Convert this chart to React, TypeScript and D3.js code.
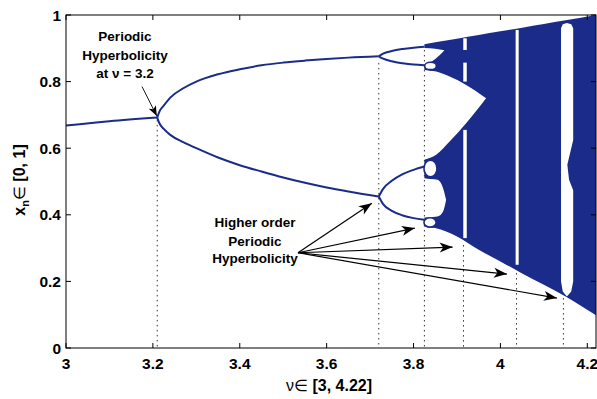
import React from 'react';
import * as d3 from 'd3';

// ---------- data ----------
const xTicks = [3, 3.2, 3.4, 3.6, 3.8, 4, 4.2];
const yTicks = [0, 0.2, 0.4, 0.6, 0.8, 1];

// fixed point branch
const fixedNu = [3, 3.1, 3.21];
const fixedX = [0.668, 0.681, 0.692];

// period-2 branches
const p2Nu = [3.21, 3.215, 3.225, 3.24, 3.27, 3.3, 3.35, 3.4, 3.45, 3.5, 3.55, 3.6, 3.65, 3.72];
const p2Up = [0.692, 0.71, 0.728, 0.752, 0.78, 0.8, 0.822, 0.837, 0.849, 0.857, 0.863, 0.868, 0.872, 0.876];
const p2Lo = [0.692, 0.675, 0.658, 0.64, 0.618, 0.6, 0.572, 0.549, 0.53, 0.512, 0.496, 0.482, 0.47, 0.455];

// period-4 branches
const p4Nu = [3.72, 3.73, 3.75, 3.775, 3.8, 3.825];
const p4aUp = [0.876, 0.884, 0.892, 0.898, 0.902, 0.905];
const p4aLo = [0.876, 0.869, 0.861, 0.855, 0.851, 0.849];
const p4bUp = [0.455, 0.478, 0.502, 0.522, 0.535, 0.545];
const p4bLo = [0.455, 0.432, 0.412, 0.398, 0.39, 0.385];

// period-8 small loops (centre nu, centre x, half-width nu, half-height x)
const loopNu = [3.839, 3.839, 3.838];
const loopX = [0.847, 0.539, 0.377];
const loopRnu = [0.0135, 0.015, 0.014];
const loopRx = [0.011, 0.025, 0.014];

// chaotic region envelope
const chaosNu = [3.825, 3.85, 3.9, 3.95, 4.0, 4.05, 4.1, 4.15, 4.22];
const chaosTop = [0.912, 0.918, 0.929, 0.94, 0.951, 0.962, 0.973, 0.984, 1.0];
const chaosBottom = [0.365, 0.36, 0.335, 0.295, 0.26, 0.224, 0.19, 0.155, 0.098];

// white wedge between the two chaotic bands
const wedgeNu = [3.8, 3.825, 3.852, 3.883, 3.921, 3.967];
const wedgeTop = [0.84, 0.835, 0.83, 0.815, 0.79, 0.75];
const wedgeBottom = [0.56, 0.565, 0.58, 0.62, 0.675, 0.75];

// white lenses
const lensANu = [3.8, 3.825, 3.85, 3.871];
const lensATop = [0.9, 0.901, 0.899, 0.894];
const lensABottom = [0.853, 0.853, 0.868, 0.894];
const lensBNu = [3.8, 3.825, 3.855, 3.868, 3.875];
const lensBTop = [0.53, 0.51, 0.505, 0.48, 0.445];
const lensBBottom = [0.39, 0.392, 0.395, 0.41, 0.445];

// periodic windows inside chaos: [nu0, nu1, xTop, xBottom]
const windows: [number, number, number, number][] = [
  [3.9145, 3.9225, 0.93, 0.895],
  [3.9145, 3.9225, 0.857, 0.8],
  [3.9145, 3.9225, 0.655, 0.33],
  [4.035, 4.042, 0.955, 0.25],
];
const bigWinNu = [4.1395, 4.1395, 4.1435, 4.153, 4.163, 4.1675, 4.1675, 4.158, 4.154, 4.1675, 4.1675, 4.163, 4.153, 4.1435];
const bigWinX = [0.96, 0.2, 0.17, 0.155, 0.17, 0.2, 0.474, 0.505, 0.55, 0.625, 0.96, 0.972, 0.976, 0.972];

// dotted verticals: nu and top value
const dotNu = [3.21, 3.72, 3.825, 3.915, 4.037, 4.145];
const dotTop = [0.685, 0.856, 0.895, 0.309, 0.225, 0.15];

// annotation arrows (data coords)
const arrow1From: [number, number] = [3.175, 0.785];
const arrow1To: [number, number] = [3.209, 0.697];
const arrow2From: [number, number] = [3.534, 0.286];
const arrow2ToNu = [3.704, 3.803, 3.89, 4.015, 4.13];
const arrow2ToX = [0.435, 0.36, 0.303, 0.222, 0.15];

// ---------- chart ----------
const W = 597;
const H = 399;
const BLUE = '#1a2b8a';
const FONT = "'Liberation Sans', Arial, Helvetica, sans-serif";

export default function App() {
  const x = d3.scaleLinear().domain([3, 4.22]).range([66, 596]);
  const y = d3.scaleLinear().domain([0, 1]).range([348, 15]);

  const zip = (a: number[], b: number[]) => a.map((v, i) => [v, b[i]] as [number, number]);
  const line = d3
    .line<[number, number]>()
    .x((d) => x(d[0]))
    .y((d) => y(d[1]))
    .curve(d3.curveMonotoneX);
  const polyLine = d3
    .line<[number, number]>()
    .x((d) => x(d[0]))
    .y((d) => y(d[1]));
  const area = (nu: number[], top: number[], bot: number[]) =>
    d3
      .area<number>()
      .x((_, i) => x(nu[i]))
      .y1((_, i) => y(top[i]))
      .y0((_, i) => y(bot[i]))
      .curve(d3.curveMonotoneX)(nu) as string;

  const branches = [
    zip(fixedNu, fixedX),
    zip(p2Nu, p2Up),
    zip(p2Nu, p2Lo),
    zip(p4Nu, p4aUp),
    zip(p4Nu, p4aLo),
    zip(p4Nu, p4bUp),
    zip(p4Nu, p4bLo),
  ];

  const x0 = x(3), x1 = x(4.22), y0 = y(0), y1 = y(1);

  return (
    <svg
      width={W}
      height={H}
      viewBox={`0 0 ${W} ${H}`}
      style={{ position: 'absolute', left: 0, top: 0, background: '#fff' }}
      fontFamily={FONT}
    >
      <defs>
        <marker id="head2" viewBox="-14 -6 15 12" refX={0} refY={0} markerWidth={15} markerHeight={12} markerUnits="userSpaceOnUse" orient="auto">
          <path d="M0,0 L-13,-5 L-9.5,0 L-13,5 Z" fill="#000" />
        </marker>
        <marker id="head1" viewBox="-11 -5 12 10" refX={0} refY={0} markerWidth={12} markerHeight={10} markerUnits="userSpaceOnUse" orient="auto">
          <path d="M0,0 L-10,-4 L-7.5,0 L-10,4 Z" fill="#000" />
        </marker>
      </defs>

      {/* chaotic region */}
      <path d={area(chaosNu, chaosTop, chaosBottom)} fill={BLUE} />
      <path d={area(wedgeNu, wedgeTop, wedgeBottom)} fill="#fff" />
      <path d={area(lensANu, lensATop, lensABottom)} fill="#fff" />
      <path d={area(lensBNu, lensBTop, lensBBottom)} fill="#fff" />
      {windows.map((w, i) => (
        <rect key={i} x={x(w[0])} width={x(w[1]) - x(w[0])} y={y(w[2])} height={y(w[3]) - y(w[2])} fill="#fff" />
      ))}
      <path d={polyLine(zip(bigWinNu, bigWinX)) + 'Z'} fill="#fff" />
      {loopNu.map((nu, i) => (
        <ellipse
          key={i}
          cx={x(nu)}
          cy={y(loopX[i])}
          rx={x(nu + loopRnu[i]) - x(nu)}
          ry={y(0) - y(loopRx[i])}
          fill="#fff"
          stroke={BLUE}
          strokeWidth={1.6}
        />
      ))}

      {/* periodic branches */}
      {branches.map((b, i) => (
        <path key={i} d={line(b) as string} fill="none" stroke={BLUE} strokeWidth={2} />
      ))}

      {/* dotted verticals */}
      {dotNu.map((nu, i) => (
        <line key={i} x1={x(nu)} x2={x(nu)} y1={y(dotTop[i])} y2={y0} stroke="#333" strokeWidth={1} strokeDasharray="1.5,3.5" />
      ))}

      {/* axes box & ticks */}
      <rect x={x0} y={y1} width={x1 - x0} height={y0 - y1} fill="none" stroke="#000" strokeWidth={1} />
      {xTicks.map((t) => (
        <g key={t}>
          <line x1={x(t)} x2={x(t)} y1={y0} y2={y0 - 5} stroke="#000" />
          <line x1={x(t)} x2={x(t)} y1={y1} y2={y1 + 5} stroke="#000" />
          <text x={x(t)} y={369} textAnchor="middle" fontSize={15.5} fontWeight="bold">
            {d3.format('~g')(t)}
          </text>
        </g>
      ))}
      {yTicks.map((t) => (
        <g key={t}>
          <line x1={x0} x2={x0 + 5} y1={y(t)} y2={y(t)} stroke="#000" />
          <line x1={x1} x2={x1 - 5} y1={y(t)} y2={y(t)} stroke="#000" />
          <text x={61} y={y(t)} dy="0.36em" textAnchor="end" fontSize={15.5} fontWeight="bold">
            {d3.format('~g')(t)}
          </text>
        </g>
      ))}

      {/* axis titles */}
      <text x={329} y={391} textAnchor="middle" fontSize={16}>
        <tspan fontWeight="normal">ν∈ </tspan>
        <tspan fontWeight="bold">[3, 4.22]</tspan>
      </text>
      <text transform="translate(25,180) rotate(-90)" textAnchor="middle" fontSize={16}>
        <tspan fontWeight="bold">x</tspan>
        <tspan fontWeight="bold" fontSize={11} dy={4}>n</tspan>
        <tspan fontWeight="normal" dy={-4}>∈ </tspan>
        <tspan fontWeight="bold">[0, 1]</tspan>
      </text>

      {/* annotations */}
      <g fontSize={13.5} fontWeight="bold" textAnchor="middle">
        <text x={125} y={40.5}>Periodic</text>
        <text x={125} y={59.5}>Hyperbolicity</text>
        <text x={125} y={77.5}>at ν = 3.2</text>
        <text x={255} y={227}>Higher order</text>
        <text x={255} y={245.5}>Periodic</text>
        <text x={255} y={263}>Hyperbolicity</text>
      </g>
      <line
        x1={x(arrow1From[0])}
        y1={y(arrow1From[1])}
        x2={x(arrow1To[0])}
        y2={y(arrow1To[1])}
        stroke="#000"
        strokeWidth={0.9}
        markerEnd="url(#head1)"
      />
      {arrow2ToNu.map((nu, i) => (
        <line
          key={i}
          x1={x(arrow2From[0])}
          y1={y(arrow2From[1])}
          x2={x(nu)}
          y2={y(arrow2ToX[i])}
          stroke="#000"
          strokeWidth={1.2}
          markerEnd="url(#head2)"
        />
      ))}
    </svg>
  );
}
